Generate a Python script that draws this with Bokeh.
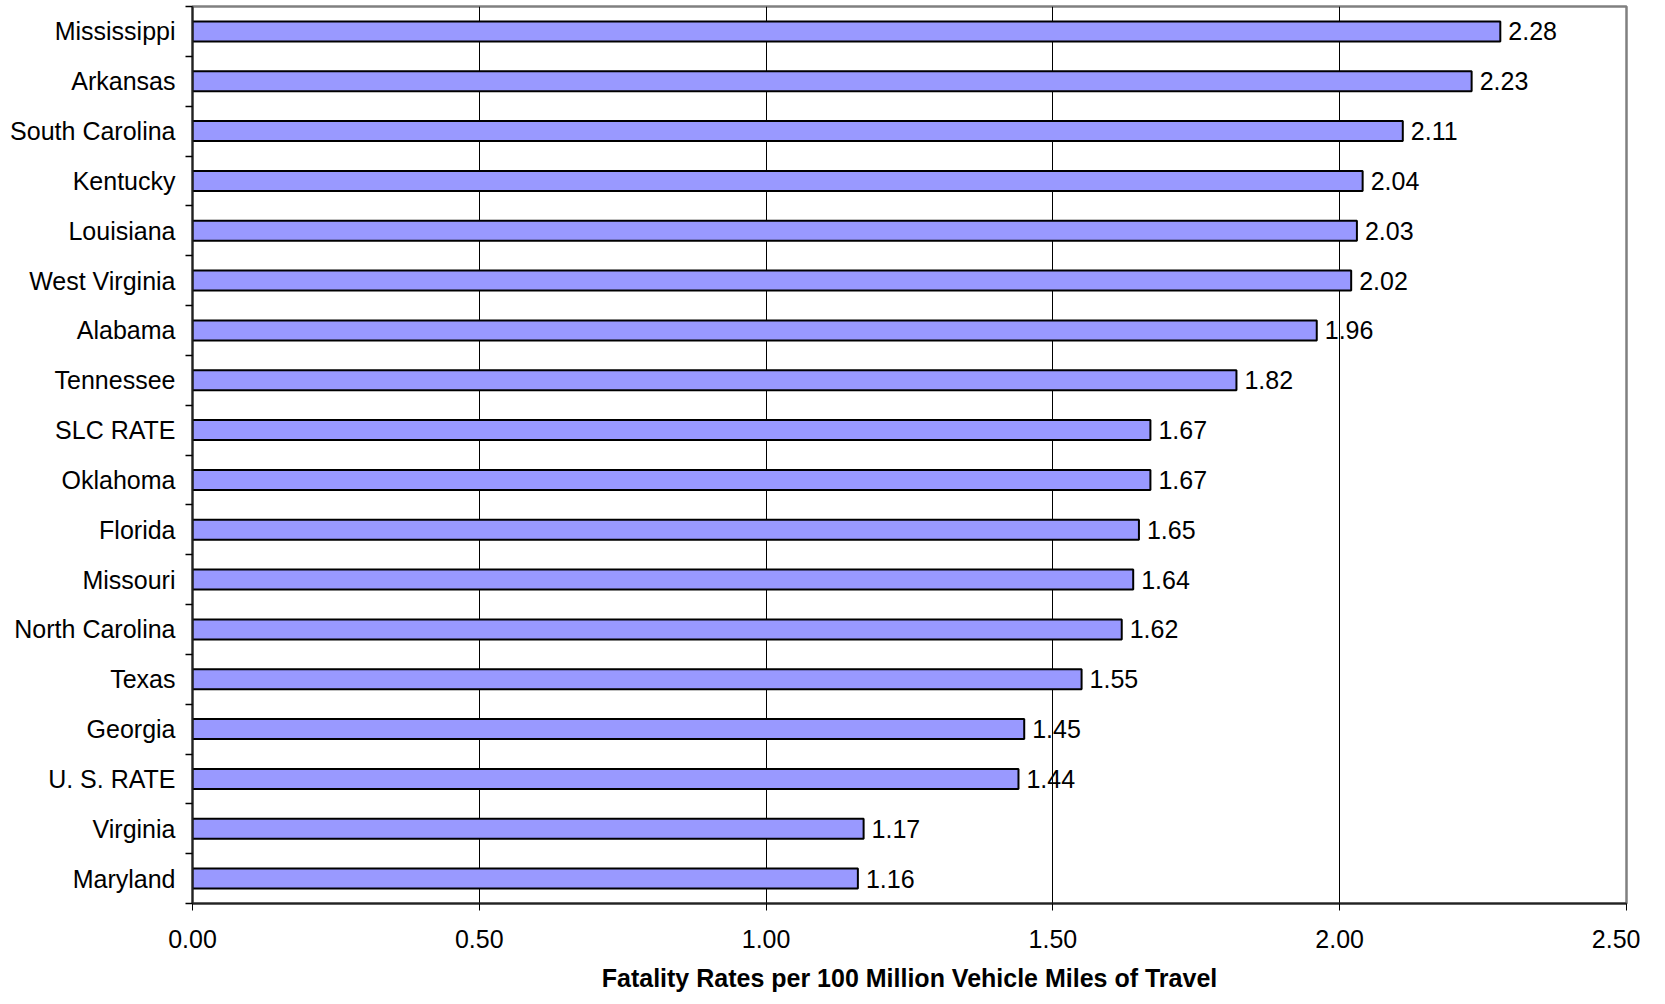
from bokeh.plotting import figure
from bokeh.models import Range1d, FixedTicker, ColumnDataSource, LabelSet
from bokeh.core.properties import value
from bokeh.embed import file_html
from bokeh.resources import INLINE

states = ["Mississippi", "Arkansas", "South Carolina", "Kentucky", "Louisiana",
          "West Virginia", "Alabama", "Tennessee", "SLC RATE", "Oklahoma",
          "Florida", "Missouri", "North Carolina", "Texas", "Georgia",
          "U. S. RATE", "Virginia", "Maryland"]
rates = [2.28, 2.23, 2.11, 2.04, 2.03, 2.02, 1.96, 1.82, 1.67, 1.67,
         1.65, 1.64, 1.62, 1.55, 1.45, 1.44, 1.17, 1.16]
x_ticks = [0.0, 0.5, 1.0, 1.5, 2.0, 2.5]
x_tick_labels = ["0.00", "0.50", "1.00", "1.50", "2.00", "2.50"]
x_title = "Fatality Rates per 100 Million Vehicle Miles of Travel"

n = len(states)
centers = [i + 0.5 for i in range(n)]
bounds = [float(i) for i in range(n + 1)]

src = ColumnDataSource(dict(
    y=centers, rate=rates, state=states,
    label=["%.2f" % r for r in rates],
))

FONT = "Liberation Sans"
p = figure(width=1640, height=994, output_backend="svg", toolbar_location=None,
           x_range=Range1d(0, 2.5), y_range=Range1d(n, 0),
           min_border_left=192, min_border_right=14, min_border_top=6,
           min_border_bottom=80)
p.background_fill_color = "white"
p.border_fill_color = "white"
p.outline_line_color = "#808080"
p.outline_line_width = 2.5

p.hbar(y="y", left=0, right="rate", height=0.4, source=src,
       fill_color="#9999FF", line_color="black", line_width=2)

labels = LabelSet(x="rate", y="y", text="label", source=src,
                  x_offset=8, text_baseline="middle", text_align="left",
                  text_font=value(FONT), text_font_size="25px", text_color="black")
p.add_layout(labels)

# x axis
p.xaxis.ticker = FixedTicker(ticks=x_ticks, minor_ticks=[])
p.xaxis.major_label_overrides = {t: l for t, l in zip(x_ticks, x_tick_labels)}
p.xaxis.major_tick_out = 7
p.xaxis.major_tick_in = 0
p.xaxis.major_tick_line_color = "black"
p.xaxis.axis_line_color = "#222222"
p.xaxis.axis_line_width = 2
p.xaxis.major_label_text_font = FONT
p.xaxis.major_label_text_font_size = "25px"
p.xaxis.major_label_text_color = "black"
p.xaxis.major_label_standoff = 19
p.xaxis.axis_label = x_title
p.xaxis.axis_label_text_font = FONT
p.xaxis.axis_label_text_font_style = "bold"
p.xaxis.axis_label_text_font_size = "25px"
p.xaxis.axis_label_text_color = "black"
p.xaxis.axis_label_standoff = 13

# y axis: labels at centers, tick marks at boundaries
p.yaxis.ticker = FixedTicker(ticks=centers, minor_ticks=bounds)
p.yaxis.major_label_overrides = {c: s for c, s in zip(centers, states)}
p.yaxis.major_tick_out = 0
p.yaxis.major_tick_in = 0
p.yaxis.minor_tick_out = 7
p.yaxis.minor_tick_in = 0
p.yaxis.minor_tick_line_color = "black"
p.yaxis.minor_tick_line_width = 1.5
p.yaxis.axis_line_color = "#222222"
p.yaxis.axis_line_width = 2
p.yaxis.major_label_text_font = FONT
p.yaxis.major_label_text_font_size = "25px"
p.yaxis.major_label_text_color = "black"
p.yaxis.major_label_standoff = 10

p.xgrid.ticker = FixedTicker(ticks=x_ticks)
p.xgrid.grid_line_color = "black"
p.xgrid.grid_line_width = 1
p.ygrid.grid_line_color = None

open("out.html", "w").write(file_html(p, INLINE))
